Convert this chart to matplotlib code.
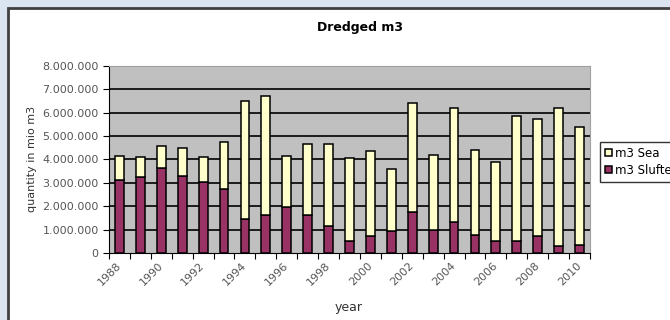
import matplotlib
matplotlib.use("Agg")
from matplotlib import pyplot as plt
from matplotlib.patches import Rectangle
from matplotlib.ticker import FuncFormatter, MultipleLocator
from matplotlib.transforms import ScaledTranslation
import numpy as np

# data (m3 per year)
years = list(range(1988, 2011))
slufter = [3100000, 3240000, 3620000, 3310000, 3030000, 2730000, 1460000, 1610000,
           1950000, 1610000, 1140000, 500000, 720000, 920000, 1730000, 980000,
           1320000, 780000, 520000, 500000, 720000, 280000, 350000]
total = [4150000, 4080000, 4590000, 4500000, 4120000, 4720000, 6490000, 6700000,
         4150000, 4640000, 4640000, 4070000, 4350000, 3600000, 6400000, 4180000,
         6190000, 4420000, 3900000, 5840000, 5720000, 6190000, 5370000]
sea = [t - s for t, s in zip(total, slufter)]

W, H = 670, 320
fig = plt.figure(figsize=(W / 100, H / 100), dpi=100)
fig.patch.set_facecolor("#dbe5f1")

# white chart panel with dark border
panel = Rectangle((8 / W, -0.1), 1.2, 1 - 8 / H + 0.1, transform=fig.transFigure,
                  facecolor="white", edgecolor="#404040", linewidth=2, zorder=-10)
fig.patches.append(panel)

ax = fig.add_axes([109 / W, 1 - 253 / H, 481 / W, (253 - 65.7) / H])
ax.set_facecolor("#c0c0c0")

x = np.arange(len(years))
w = 0.42
b1 = ax.bar(x, slufter, width=w, color="#993366", edgecolor="black", linewidth=1.1, zorder=3,
            label="m3 Slufter")
b2 = ax.bar(x, sea, width=w, bottom=slufter, color="#ffffcc", edgecolor="black",
            linewidth=1.1, zorder=3, label="m3 Sea")

ax.set_xlim(-0.5, len(years) - 0.5)
ax.set_ylim(0, 8000000)
ax.yaxis.set_major_locator(MultipleLocator(1000000))
ax.yaxis.set_major_formatter(FuncFormatter(lambda v, p: f"{int(v):,}".replace(",", ".")))
for v in range(1000000, 8000000, 1000000):
    ax.axhline(v, color="black", linewidth=1.2, zorder=1)

# category-boundary ticks, labels every other year
ax.set_xticks(np.arange(-0.5, len(years)), minor=False)
ax.set_xticklabels([])
ax.set_xticks(x[::2], minor=True)
labels = ax.set_xticklabels([str(y) for y in years[::2]], minor=True, rotation=45,
                            ha="right", va="center", rotation_mode="anchor", fontsize=8,
                            color="#555555")
shift = ScaledTranslation(-4 / 100, 0, fig.dpi_scale_trans)
for lab in labels:
    lab.set_transform(lab.get_transform() + shift)
ax.tick_params(axis="x", which="major", direction="out", length=4, color="black")
ax.tick_params(axis="x", which="minor", length=0, pad=8)
ax.tick_params(axis="y", direction="out", length=4, labelsize=8, labelcolor="#555555")

for side in ["top", "right"]:
    ax.spines[side].set_color("#a0a0a0")
    ax.spines[side].set_linewidth(0.8)
ax.spines["left"].set_color("black")
ax.spines["bottom"].set_color("black")

ax.set_ylabel("quantity in mio m3", fontsize=8, color="#333333", labelpad=4)
fig.text(349 / W, 1 - 307 / H, "year", fontsize=9, color="#333333", ha="center", va="center")
fig.text(360 / W, 1 - 28 / H, "Dredged m3", fontsize=9, fontweight="bold", ha="center",
         va="center")

leg = fig.legend(handles=[b2, b1], labels=["m3 Sea", "m3 Slufter"], loc="upper left",
                 bbox_to_anchor=(600 / W, 1 - 142 / H), borderaxespad=0, fontsize=8.5,
                 frameon=True, fancybox=False, handlelength=0.6, handleheight=0.6,
                 handletextpad=0.3, borderpad=0.4, labelspacing=0.35)
leg.get_frame().set_edgecolor("black")
leg.get_frame().set_linewidth(1)

fig.savefig("out.png", dpi=100, facecolor=fig.get_facecolor())
